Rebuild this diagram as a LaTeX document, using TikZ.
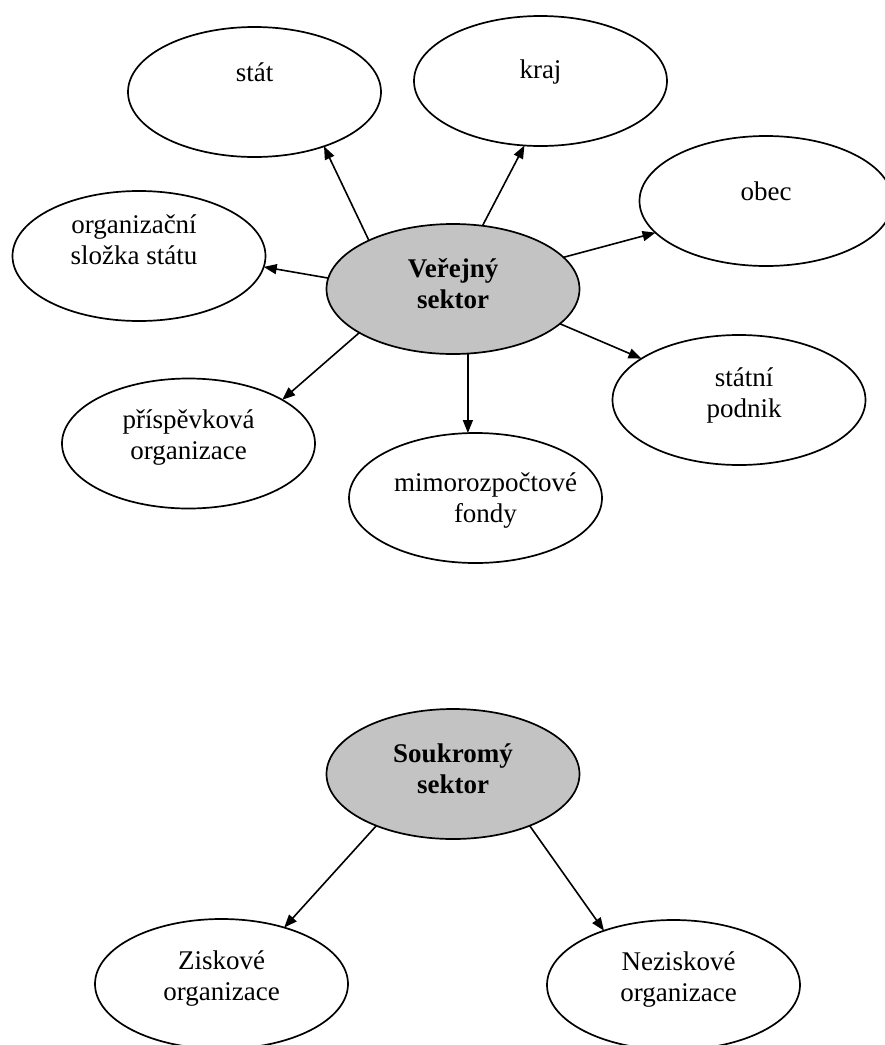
\documentclass[tikz,border=0pt]{standalone}
\usepackage{fontspec}
\setmainfont{Liberation Serif}
\usetikzlibrary{shapes.geometric,arrows.meta}
\definecolor{coregray}{RGB}{195,195,195}
\tikzset{
  ell/.style={ellipse, draw=black, line width=1.7pt, minimum width=253pt, minimum height=130pt, inner sep=0pt, outer sep=0pt, fill=white},
  core/.style={ell, fill=coregray},
  txt/.style={font=\fontsize{27}{31}\selectfont, align=center, inner sep=0pt},
  btxt/.style={font=\fontsize{27}{31}\selectfont\bfseries, align=center, inner sep=0pt},
  arr/.style={-{Triangle[length=13pt,width=10pt]}, line width=1.6pt},
}
\begin{document}
\begin{tikzpicture}[x=1pt,y=-1pt]
\useasboundingbox (0,0) rectangle (885,1045);
\node[ell, label={[txt, yshift=20pt]center:stát}] (S) at (254.5,92) {};
\node[ell, label={[txt, yshift=9pt]center:kraj}] (K) at (540.5,81) {};
\node[ell, label={[txt, yshift=10pt]center:obec}] (O) at (766,201) {};
\node[ell, label={[txt, yshift=16pt, xshift=-5pt]center:organizační\\složka státu}] (G) at (139,256) {};
\node[core, label={[btxt, yshift=5pt]center:Veřejný\\sektor}] (V) at (453,289) {};
\node[ell, label={[txt, yshift=5pt, xshift=5pt]center:státní\\podnik}] (P) at (739,400) {};
\node[ell, label={[txt, yshift=6pt]center:příspěvková\\organizace}] (R) at (188.5,443.5) {};
\node[ell, label={[txt, yshift=-3pt, xshift=10pt]center:mimorozpočtové\\fondy}] (M) at (475.5,498) {};
\node[core, label={[btxt, yshift=5pt]center:Soukromý\\sektor}] (U) at (453,774) {};
\node[ell, label={[txt, yshift=5pt]center:Ziskové\\organizace}] (Z) at (221.5,984) {};
\node[ell, label={[txt, yshift=5pt, xshift=5pt]center:Neziskové\\organizace}] (N) at (673.5,985) {};
\draw[arr] (V.150) -- (S.-38);
\draw[arr] (V.65) -- (K.-104);
\draw[arr] (V.16) -- (O.196);
\draw[arr] (V.175) -- (G.-5);
\draw[arr] (V.-18) -- (P.157);
\draw[arr] (V.205) -- (R.25);
\draw[arr] (V.-77) -- (V.-77 |- M.north);
\draw[arr] (U.214) -- (Z.42);
\draw[arr] (U.-34) -- (N.142);
\end{tikzpicture}
\end{document}
